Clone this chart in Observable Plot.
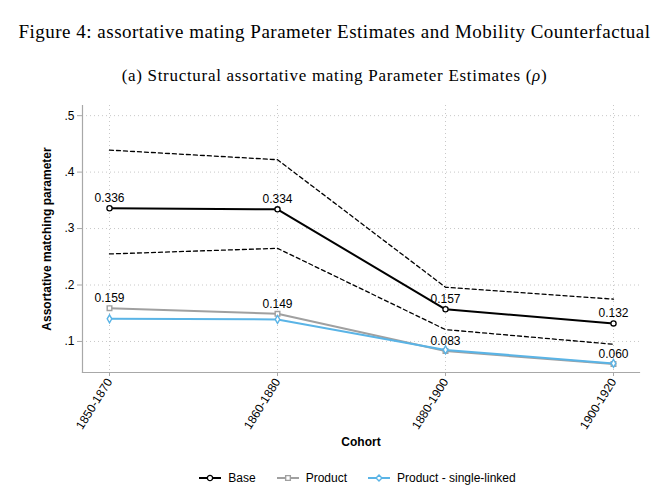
<!DOCTYPE html>
<html>
<head>
<meta charset="utf-8">
<script src="https://cdn.jsdelivr.net/npm/d3@7"></script>
<script src="https://cdn.jsdelivr.net/npm/@observablehq/plot@0.6"></script>
<style>
  body { margin: 0; background: #fff; width: 669px; }
  #header { position: relative; height: 95px; font-family: "Liberation Serif", serif; color: #000; }
  #title { position: absolute; left: 0; right: 0; top: 21px; text-align: center; font-size: 19px; line-height: 22px; letter-spacing: 0.5px; white-space: nowrap; }
  #subtitle { position: absolute; left: 0; right: 0; top: 66px; text-align: center; font-size: 17px; line-height: 20px; letter-spacing: 0.7px; white-space: nowrap; }
  #chart svg { display: block; }
  #legend { height: 20px; margin-top: 13px; display: flex; justify-content: center; align-items: center; gap: 20px; font-family: "Liberation Sans", Arial, sans-serif; font-size: 12px; color: #000; padding-left: 45px; box-sizing: border-box; }
  .item { display: flex; align-items: center; gap: 6px; }
</style>
</head>
<body>
<div id="header">
  <div id="title">Figure 4: assortative mating Parameter Estimates and Mobility Counterfactual</div>
  <div id="subtitle">(a) Structural assortative mating Parameter Estimates (<i>ρ</i>)</div>
</div>
<div id="chart"></div>
<div id="legend"></div>
<script>
const cohorts = ["1850-1870", "1860-1880", "1880-1900", "1900-1920"];
const base = [0.336, 0.334, 0.157, 0.132];
const product = [0.159, 0.149, 0.083, 0.060];
const singleLinked = [0.140, 0.139, 0.085, 0.061];
const ciUpper = [0.439, 0.422, 0.196, 0.175];
const ciLower = [0.255, 0.265, 0.121, 0.095];
const yTicks = [0.1, 0.2, 0.3, 0.4, 0.5];
const seriesNames = ["Base", "Product", "Product - single-linked"];
const seriesColors = ["#000000", "#a0a0a0", "#5ab4e6"];

const rows = (vals, name) => cohorts.map((c, i) => ({cohort: c, value: vals[i], series: name}));
const baseRows = rows(base, "Base");
const prodRows = rows(product, "Product");
const slRows = rows(singleLinked, "Product - single-linked");
const upRows = rows(ciUpper, "upper");
const loRows = rows(ciLower, "lower");
const fmt3 = d => d.toFixed(3);

const font = "Liberation Sans, Arial, sans-serif";
const chart = Plot.plot({
  width: 669,
  height: 360,
  marginTop: 10,
  marginLeft: 82,
  marginRight: 30,
  marginBottom: 83,
  style: {fontFamily: font, fontSize: "12px", color: "#000", background: "#fff"},
  x: {type: "point", domain: cohorts, padding: 0.155},
  y: {domain: [0.045, 0.518]},
  marks: [
    Plot.ruleY(yTicks, {stroke: "#c8c8c8", strokeDasharray: "1,3", strokeWidth: 1}),
    Plot.ruleX(cohorts, {stroke: "#c8c8c8", strokeDasharray: "1,3", strokeWidth: 1}),
    Plot.frame({anchor: "left", stroke: "#a8a8a8", strokeWidth: 1.2}),
    Plot.frame({anchor: "bottom", stroke: "#a8a8a8", strokeWidth: 1.2}),
    Plot.axisY({ticks: yTicks, tickFormat: d => d.toFixed(1).replace(/^0/, ""), tickSize: 5, tickPadding: 3, stroke: "#a8a8a8", label: null, fontSize: 12}),
    Plot.axisX({tickRotate: -58, tickSize: 4, tickPadding: 3, stroke: "#a8a8a8", label: null, fontSize: 12}),
    Plot.line(upRows, {x: "cohort", y: "value", stroke: "#000", strokeWidth: 1.3, strokeDasharray: "4,3"}),
    Plot.line(loRows, {x: "cohort", y: "value", stroke: "#000", strokeWidth: 1.3, strokeDasharray: "4,3"}),
    Plot.line(prodRows, {x: "cohort", y: "value", stroke: seriesColors[1], strokeWidth: 2}),
    Plot.dot(prodRows, {x: "cohort", y: "value", symbol: "square", r: 2.6, stroke: seriesColors[1], fill: "#fff", strokeWidth: 1.4}),
    Plot.line(slRows, {x: "cohort", y: "value", stroke: seriesColors[2], strokeWidth: 2}),
    Plot.dot(slRows, {x: "cohort", y: "value", symbol: "diamond", r: 2.4, stroke: seriesColors[2], fill: "#fff", strokeWidth: 1.4}),
    Plot.line(baseRows, {x: "cohort", y: "value", stroke: seriesColors[0], strokeWidth: 2}),
    Plot.dot(baseRows, {x: "cohort", y: "value", symbol: "circle", r: 2.6, stroke: seriesColors[0], fill: "#fff", strokeWidth: 1.3}),
    Plot.text(baseRows, {x: "cohort", y: "value", text: d => fmt3(d.value), dy: -10, fill: "#000", fontSize: 12}),
    Plot.text(prodRows, {x: "cohort", y: "value", text: d => fmt3(d.value), dy: -10, fill: "#000", fontSize: 12}),
    Plot.text(["Assortative matching parameter"], {frameAnchor: "left", textAnchor: "middle", rotate: -90, dx: -35, fontWeight: "bold", fontSize: 12, fill: "#000"}),
    Plot.text(["Cohort"], {frameAnchor: "bottom", dy: 73, fontWeight: "bold", fontSize: 12, fill: "#000"})
  ]
});
document.getElementById("chart").appendChild(chart);

const legend = document.getElementById("legend");
seriesNames.forEach((name, i) => {
  const item = document.createElement("div");
  item.className = "item";
  const sw = d3.create("svg").attr("width", 24).attr("height", 10);
  sw.append("line").attr("x1", 1).attr("x2", 23).attr("y1", 5).attr("y2", 5).attr("stroke", seriesColors[i]).attr("stroke-width", 2);
  sw.append("path").attr("transform", "translate(12,5)")
    .attr("d", d3.symbol(i === 0 ? d3.symbolCircle : i === 1 ? d3.symbolSquare : d3.symbolDiamond2, 22)())
    .attr("fill", "#fff").attr("stroke", seriesColors[i]).attr("stroke-width", 1.4);
  item.appendChild(sw.node());
  const t = document.createElement("span");
  t.textContent = name;
  item.appendChild(t);
  legend.appendChild(item);
});
</script>
</body>
</html>
